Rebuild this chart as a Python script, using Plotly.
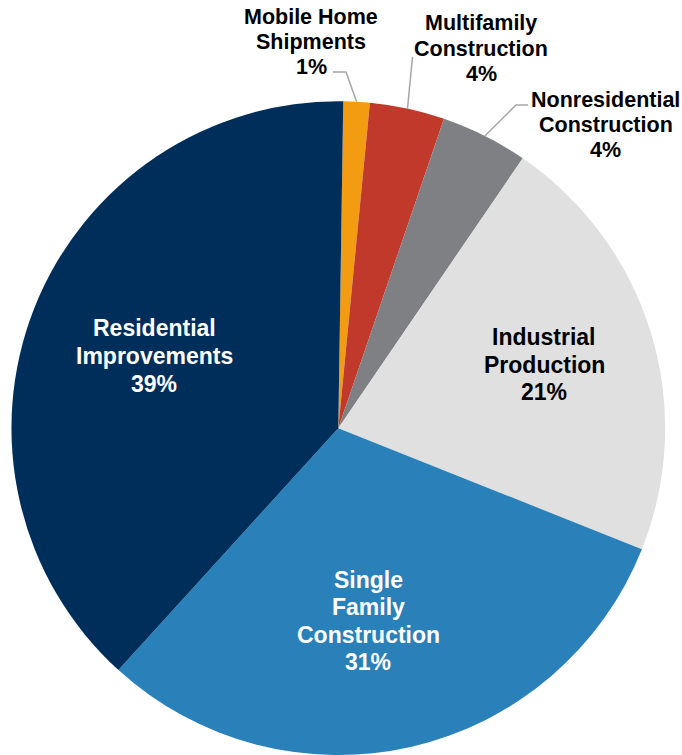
import math
import plotly.graph_objects as go

# ---------------- data ----------------
categories = ["Mobile Home Shipments", "Multifamily Construction", "Nonresidential Construction",
              "Industrial Production", "Single Family Construction", "Residential Improvements"]
shares = [1.3, 3.7, 4.3, 21.5, 30.7, 38.5]
pct_labels = ["1%", "4%", "4%", "21%", "31%", "39%"]
label_lines = [
    ["Mobile Home", "Shipments"],
    ["Multifamily", "Construction"],
    ["Nonresidential", "Construction"],
    ["Industrial", "Production"],
    ["Single", "Family", "Construction"],
    ["Residential", "Improvements"],
]

# ---------------- style ----------------
colors = ["#F39C12", "#C0392B", "#7F8084", "#E0E0E0", "#2A80B9", "#002E5A"]
text_colors = ["#000000", "#000000", "#000000", "#000000", "#FFFFFF", "#FFFFFF"]
font_sizes = [21.5, 21.5, 21.5, 23, 23, 23]
W, H = 682, 755
CX, CY, R = 338.3, 428.3, 327.0
ROTATION = 0.87
FONT = "Liberation Sans, Arial, sans-serif"
# label block centre (pixels) and line spacing
label_pos = {
    0: (311, 42, 24.8),
    1: (481, 48.5, 25.2),
    2: (605.5, 125, 25.3),
    3: (544, 364.5, 27.0),
    4: (368, 621, 27.3),
    5: (154, 356, 28.0),
}
# leader line intermediate/end points (pixels) for outside labels
leaders = {
    0: [(346, 72), (333, 72)],
    1: [(412.5, 57)],
    2: [(516, 105), (528, 105)],
}

def px(x):
    return x / W

def py(y):
    return 1 - y / H

fig = go.Figure(go.Pie(
    labels=categories,
    values=shares,
    sort=False,
    direction="clockwise",
    rotation=ROTATION,
    marker=dict(colors=colors, line=dict(width=0)),
    textinfo="none",
    hoverinfo="label+percent",
    showlegend=False,
    domain=dict(x=[(CX - R) / W, (CX + R) / W], y=[0, (H - CY + R) / H]),
))

annotations = []
for i, lines in enumerate(label_lines):
    all_lines = lines + [pct_labels[i]]
    cx, cy, sp = label_pos[i]
    n = len(all_lines)
    for k, t in enumerate(all_lines):
        y = cy + (k - (n - 1) / 2) * sp
        annotations.append(dict(
            x=px(cx), y=py(y), xref="paper", yref="paper",
            text="<b>" + t + "</b>", showarrow=False,
            xanchor="center", yanchor="middle",
            font=dict(family=FONT, size=font_sizes[i], color=text_colors[i]),
        ))

# leader lines start at the slice mid-angle on the rim
total = sum(shares)
shapes = []
cum = 0.0
for i, v in enumerate(shares):
    mid = ROTATION + (cum + v / 2) / total * 360.0
    cum += v
    if i in leaders:
        a = math.radians(mid)
        sx, sy = CX + R * math.sin(a), CY - R * math.cos(a)
        pts = [(sx, sy)] + leaders[i]
        path = "M " + " L ".join(f"{px(x):.5f},{py(y):.5f}" for x, y in pts)
        shapes.append(dict(type="path", path=path, xref="paper", yref="paper",
                           line=dict(color="#A6A6A6", width=1.5)))

fig.update_layout(
    width=W, height=H,
    margin=dict(l=0, r=0, t=0, b=0),
    paper_bgcolor="white", plot_bgcolor="white",
    annotations=annotations,
    shapes=shapes,
)

fig.write_html("out.html", config={"displayModeBar": False},
               post_script="document.body.style.margin='0px';document.body.style.padding='0px';")
